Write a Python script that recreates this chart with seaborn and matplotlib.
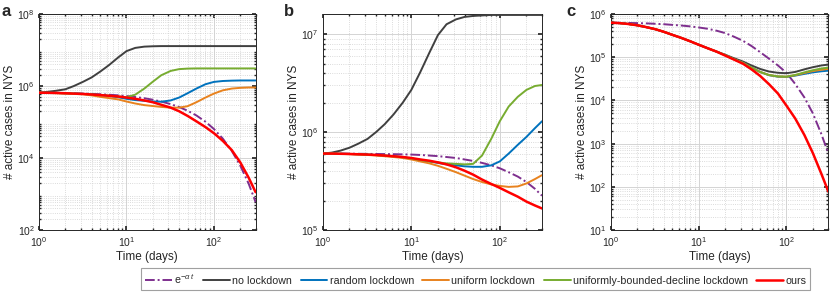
import matplotlib
matplotlib.use('Agg')
import matplotlib.pyplot as plt
import seaborn as sns
import pandas as pd
from matplotlib.ticker import NullFormatter, LogLocator

# time grid (days)
days = [1, 1.26, 1.58, 2, 2.5, 3.2, 4, 5, 6.3, 8, 10, 12.6, 16, 20, 25, 32, 40, 50,
        63, 80, 100, 126, 160, 200, 250, 300]

# active cases, stored as log10(cases)
# panel a
a_exp = [5.813, 5.810, 5.807, 5.803, 5.798, 5.791, 5.783, 5.772, 5.759, 5.742, 5.722, 5.695, 5.661,
         5.620, 5.569, 5.498, 5.417, 5.315, 5.183, 5.010, 4.807, 4.543, 4.198, 3.791, 3.283, 2.775]
a_none = [5.815, 5.84, 5.87, 5.91, 6.00, 6.12, 6.24, 6.40, 6.58, 6.79, 6.97, 7.06, 7.095,
          7.105, 7.11, 7.11, 7.11, 7.11, 7.11, 7.11, 7.11, 7.11, 7.11, 7.11, 7.11, 7.11]
a_random = [5.815, 5.812, 5.808, 5.80, 5.79, 5.78, 5.765, 5.75, 5.725, 5.69, 5.645, 5.61, 5.59,
            5.57, 5.565, 5.60, 5.68, 5.80, 5.93, 6.05, 6.115, 6.14, 6.15, 6.155, 6.155, 6.155]
a_uniform = [5.815, 5.81, 5.80, 5.79, 5.78, 5.77, 5.74, 5.70, 5.665, 5.63, 5.57, 5.515, 5.47,
             5.445, 5.42, 5.40, 5.40, 5.44, 5.55, 5.68, 5.79, 5.88, 5.93, 5.95, 5.96, 5.96]
a_ubd = [5.815, 5.812, 5.808, 5.80, 5.79, 5.78, 5.765, 5.75, 5.73, 5.71, 5.69, 5.76, 5.93,
         6.12, 6.30, 6.42, 6.47, 6.485, 6.49, 6.49, 6.49, 6.49, 6.49, 6.49, 6.49, 6.49]
a_ours = [5.815, 5.812, 5.808, 5.80, 5.79, 5.78, 5.765, 5.75, 5.73, 5.71, 5.68, 5.645, 5.60,
          5.55, 5.48, 5.40, 5.30, 5.17, 5.02, 4.86, 4.69, 4.48, 4.22, 3.88, 3.45, 3.05]

# panel b
b_exp = [5.78, 5.78, 5.78, 5.779, 5.778, 5.777, 5.776, 5.775, 5.774, 5.772, 5.77, 5.766, 5.76,
         5.754, 5.745, 5.735, 5.72, 5.705, 5.685, 5.66, 5.63, 5.59, 5.545, 5.49, 5.42, 5.35]
b_none = [5.78, 5.79, 5.81, 5.84, 5.88, 5.93, 6.00, 6.08, 6.18, 6.30, 6.43, 6.61, 6.81,
          6.99, 7.10, 7.15, 7.175, 7.185, 7.19, 7.195, 7.195, 7.195, 7.195, 7.195, 7.195, 7.195]
b_random = [5.78, 5.78, 5.778, 5.776, 5.773, 5.77, 5.765, 5.76, 5.752, 5.743, 5.73, 5.715, 5.70,
            5.685, 5.67, 5.66, 5.65, 5.645, 5.645, 5.66, 5.70, 5.78, 5.87, 5.95, 6.04, 6.11]
b_uniform = [5.78, 5.78, 5.777, 5.774, 5.77, 5.766, 5.76, 5.753, 5.745, 5.735, 5.72, 5.70, 5.68,
             5.655, 5.625, 5.59, 5.555, 5.52, 5.49, 5.465, 5.45, 5.44, 5.445, 5.475, 5.52, 5.56]
b_ubd = [5.78, 5.78, 5.778, 5.776, 5.773, 5.77, 5.765, 5.76, 5.752, 5.743, 5.73, 5.715, 5.70,
         5.69, 5.68, 5.675, 5.67, 5.675, 5.76, 5.93, 6.11, 6.26, 6.36, 6.43, 6.47, 6.48]
b_ours = [5.78, 5.78, 5.778, 5.776, 5.773, 5.77, 5.766, 5.76, 5.753, 5.745, 5.735, 5.72, 5.707,
          5.69, 5.67, 5.64, 5.605, 5.565, 5.515, 5.47, 5.43, 5.385, 5.34, 5.29, 5.25, 5.22]

# panel c
c_exp = [5.80, 5.798, 5.795, 5.79, 5.785, 5.775, 5.765, 5.75, 5.735, 5.715, 5.69, 5.66, 5.615,
         5.56, 5.48, 5.38, 5.26, 5.12, 4.97, 4.81, 4.64, 4.38, 4.07, 3.70, 3.22, 2.77]
c_none = [5.80, 5.79, 5.77, 5.74, 5.70, 5.65, 5.59, 5.52, 5.45, 5.37, 5.29, 5.21, 5.13,
          5.06, 4.98, 4.90, 4.81, 4.73, 4.67, 4.64, 4.63, 4.66, 4.72, 4.77, 4.81, 4.83]
c_random = [5.80, 5.79, 5.77, 5.74, 5.70, 5.65, 5.59, 5.52, 5.45, 5.37, 5.29, 5.21, 5.13,
            5.05, 4.96, 4.87, 4.76, 4.66, 4.585, 4.55, 4.545, 4.575, 4.615, 4.65, 4.675, 4.69]
c_uniform = [5.80, 5.79, 5.77, 5.74, 5.70, 5.65, 5.59, 5.52, 5.45, 5.37, 5.29, 5.21, 5.13,
             5.05, 4.96, 4.87, 4.76, 4.66, 4.59, 4.555, 4.55, 4.585, 4.635, 4.68, 4.71, 4.73]
c_ubd = [5.80, 5.79, 5.77, 5.74, 5.70, 5.65, 5.59, 5.52, 5.45, 5.37, 5.29, 5.21, 5.13,
         5.05, 4.96, 4.87, 4.76, 4.66, 4.59, 4.555, 4.55, 4.59, 4.65, 4.70, 4.74, 4.76]
c_ours = [5.80, 5.79, 5.77, 5.74, 5.70, 5.65, 5.59, 5.52, 5.45, 5.37, 5.29, 5.21, 5.13,
          5.04, 4.95, 4.85, 4.72, 4.57, 4.38, 4.16, 3.88, 3.58, 3.20, 2.78, 2.30, 1.89]

labels = [r'e$^{-\alpha\ t}$', 'no lockdown', 'random lockdown', 'uniform lockdown',
          'uniformly-bounded-decline lockdown', 'ours']
colors = ['#7E2F8E', '#404040', '#0072BD', '#E8821E', '#77AC30', '#FF0000']
panels = [
    ('a', [a_exp, a_none, a_random, a_uniform, a_ubd, a_ours], (1e2, 1e8)),
    ('b', [b_exp, b_none, b_random, b_uniform, b_ubd, b_ours], (1e5, 1.6e7)),
    ('c', [c_exp, c_none, c_random, c_uniform, c_ubd, c_ours], (1e1, 1e6)),
]

sns.set_theme(style='ticks')
plt.rcParams['font.family'] = ['Liberation Sans', 'DejaVu Sans']
plt.rcParams['mathtext.fontset'] = 'custom'
plt.rcParams['mathtext.rm'] = 'Liberation Sans'
plt.rcParams['mathtext.it'] = 'Liberation Sans:italic'

fig = plt.figure(figsize=(8.3, 2.93), dpi=100)
lefts = [0.047, 0.389, 0.736]
widths = [0.261, 0.264, 0.262]
letter_x = [0.002, 0.342, 0.682]

for (letter, series, ylim), left, w, lx in zip(panels, lefts, widths, letter_x):
    ax = fig.add_axes([left, 0.215, w, 0.737])
    for i, (vals, lab, col) in enumerate(zip(series, labels, colors)):
        df = pd.DataFrame({'t': days, 'cases': [10 ** v for v in vals]})
        ls = (0, (5, 1.5, 1, 1.5)) if i == 0 else '-'
        lw = 1.8 if lab == 'ours' else 1.4
        sns.lineplot(data=df, x='t', y='cases', ax=ax, color=col, lw=lw,
                     linestyle=ls, label=lab, legend=False, zorder=3 + (i == 5))
    ax.set_xscale('log')
    ax.set_yscale('log')
    ax.set_xlim(1, 300)
    ax.set_ylim(*ylim)
    ax.yaxis.set_major_locator(LogLocator(base=10, numticks=12))
    ax.yaxis.set_minor_locator(LogLocator(base=10, subs=range(2, 10), numticks=12))
    ax.yaxis.set_minor_formatter(NullFormatter())
    ax.xaxis.set_minor_formatter(NullFormatter())
    if letter == 'a':
        ax.set_yticks([1e2, 1e4, 1e6, 1e8])
    ax.grid(which='major', color='#d4d4d4', lw=0.7)
    ax.grid(which='minor', color='#cfcfcf', ls=':', lw=0.6)
    ax.tick_params(which='both', direction='in', top=True, right=True,
                   labelsize=7.5, colors='#262626')
    ax.tick_params(axis='x', pad=4)
    ax.tick_params(axis='y', pad=3)
    ax.tick_params(which='major', length=3)
    ax.tick_params(which='minor', length=1.5)
    for sp in ax.spines.values():
        sp.set_color('#262626')
        sp.set_linewidth(0.7)
    ax.set_xlabel('Time (days)', fontsize=8.5, color='#262626', labelpad=1)
    ax.set_ylabel('# active cases in NYS', fontsize=8.5, color='#262626', labelpad=1)
    fig.text(lx, 0.962, letter, fontsize=12, fontweight='bold', ha='left', va='center')

handles, labs = ax.get_legend_handles_labels()
leg = fig.legend(handles, labs, loc='center', bbox_to_anchor=(0.573, 0.048), ncol=6,
                 frameon=True, fancybox=False, edgecolor='#888888', fontsize=7.7,
                 handlelength=2.5, columnspacing=0.8, handletextpad=0.2, borderpad=0.35)
leg.get_frame().set_linewidth(0.8)

fig.savefig('out.png', dpi=100)
